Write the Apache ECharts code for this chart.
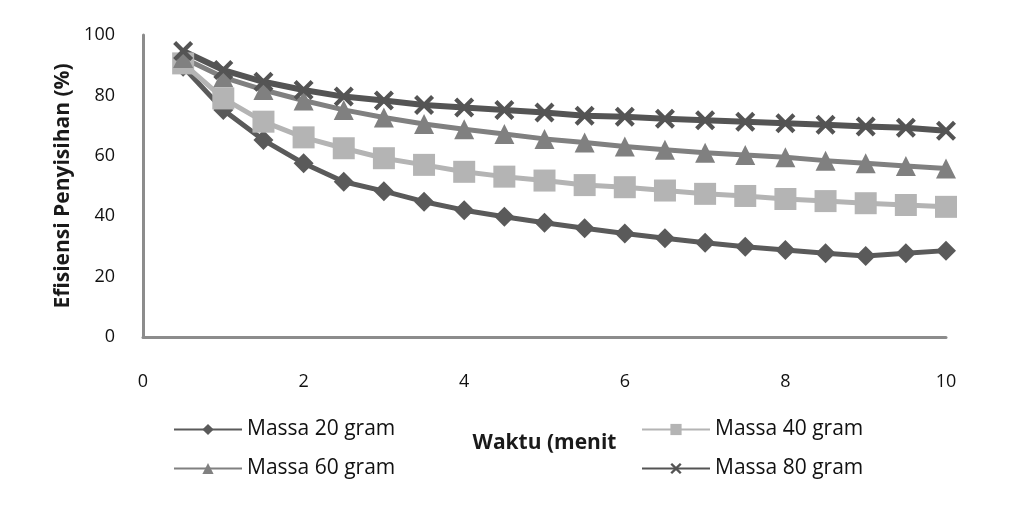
<!DOCTYPE html>
<html lang="id">
  <head>
    <meta charset="UTF-8" />
    <title>Efisiensi Penyisihan</title>
    <script src="https://cdn.jsdelivr.net/npm/echarts@6/dist/echarts.min.js"></script>
  </head>
  <body style="margin: 0; background: #fff">
    <div id="main" style="width: 1009px; height: 512px"></div>
    <script type="text/javascript">
      // waktu (menit)
      const waktu = [0.5, 1, 1.5, 2, 2.5, 3, 3.5, 4, 4.5, 5, 5.5, 6, 6.5, 7, 7.5, 8, 8.5, 9, 9.5, 10];
      // efisiensi penyisihan (%)
      const massa20 = [89.5, 75.2, 65.2, 57.5, 51.4, 48.3, 44.8, 42, 39.8, 37.8, 36, 34.3, 32.7, 31.2, 29.9, 28.8, 27.7, 26.8, 27.7, 28.6];
      const massa40 = [90.6, 79, 71.3, 66.1, 62.5, 59.2, 57, 54.7, 53.1, 51.8, 50.3, 49.6, 48.5, 47.4, 46.7, 45.7, 45, 44.3, 43.7, 43.1];
      const massa60 = [92.4, 86, 81.8, 78.3, 75.2, 72.7, 70.5, 68.8, 67.2, 65.6, 64.4, 63.1, 62, 61, 60.3, 59.5, 58.4, 57.5, 56.6, 55.8];
      const massa80 = [94.7, 88.4, 84.5, 81.8, 79.6, 78.3, 76.8, 76, 75.2, 74.3, 73.3, 72.9, 72.3, 71.8, 71.3, 70.8, 70.3, 69.7, 69.3, 68.3];
      const xTicks = [0, 2, 4, 6, 8, 10];
      const yTicks = [0, 20, 40, 60, 80, 100];

      const pairs = (ys) => waktu.map((x, i) => [x, ys[i]]);
      const xMark = "path://M0,1.5 L1.5,0 L5,3.5 L8.5,0 L10,1.5 L6.5,5 L10,8.5 L8.5,10 L5,6.5 L1.5,10 L0,8.5 L3.5,5 Z";
      const font = "'Open Sans', Lato, sans-serif";

      let myChart = echarts.init(document.getElementById("main"));

      const mk = (name, data, color, symbol, size, width) => ({
        name: name,
        type: "line",
        data: pairs(data),
        symbol: symbol,
        symbolSize: size,
        showAllSymbol: true,
        lineStyle: { color: color, width: width },
        itemStyle: { color: color },
        z: 2,
      });

      const legendText = { fontSize: 21, color: "#111", fontFamily: font };
      const nameText = { fontSize: 21, fontWeight: "bold", color: "#1a1a1a", fontFamily: font };
      const tickText = { fontSize: 18, color: "#111", fontFamily: font };

      const legendBox = (left, names) => ({
        left: left,
        top: 414,
        orient: "vertical",
        itemGap: 18,
        itemWidth: 68,
        itemHeight: 14,
        textStyle: legendText,
        data: names,
      });

      myChart.setOption({
        animation: false,
        grid: { left: 143, right: 63, top: 35, bottom: 175 },
        legend: [
          legendBox(168, ["Massa 20 gram", "Massa 60 gram"]),
          legendBox(636, ["Massa 40 gram", "Massa 80 gram"]),
        ],
        xAxis: {
          type: "value",
          min: 0,
          max: 10,
          interval: 2,
          name: "Waktu (menit",
          nameLocation: "middle",
          nameGap: 96,
          nameTextStyle: nameText,
          axisLine: { lineStyle: { color: "#8c8c8c", width: 3 } },
          axisTick: { show: false },
          splitLine: { show: false },
          axisLabel: Object.assign({ margin: 36, customValues: xTicks }, tickText),
        },
        yAxis: {
          type: "value",
          min: 0,
          max: 100,
          interval: 20,
          name: "Efisiensi Penyisihan (%)",
          nameLocation: "middle",
          nameGap: 62,
          nameTextStyle: nameText,
          axisLine: { show: true, lineStyle: { color: "#8c8c8c", width: 3 } },
          axisTick: { show: false },
          splitLine: { show: false },
          axisLabel: Object.assign({ margin: 28, customValues: yTicks }, tickText),
        },
        series: [
          mk("Massa 20 gram", massa20, "#5a5a5a", "diamond", 20, 5),
          mk("Massa 40 gram", massa40, "#b4b4b4", "rect", 22, 5),
          mk("Massa 60 gram", massa60, "#808080", "triangle", 20, 5),
          mk("Massa 80 gram", massa80, "#545454", xMark, 20, 6),
        ],
      });
    </script>
  </body>
</html>
